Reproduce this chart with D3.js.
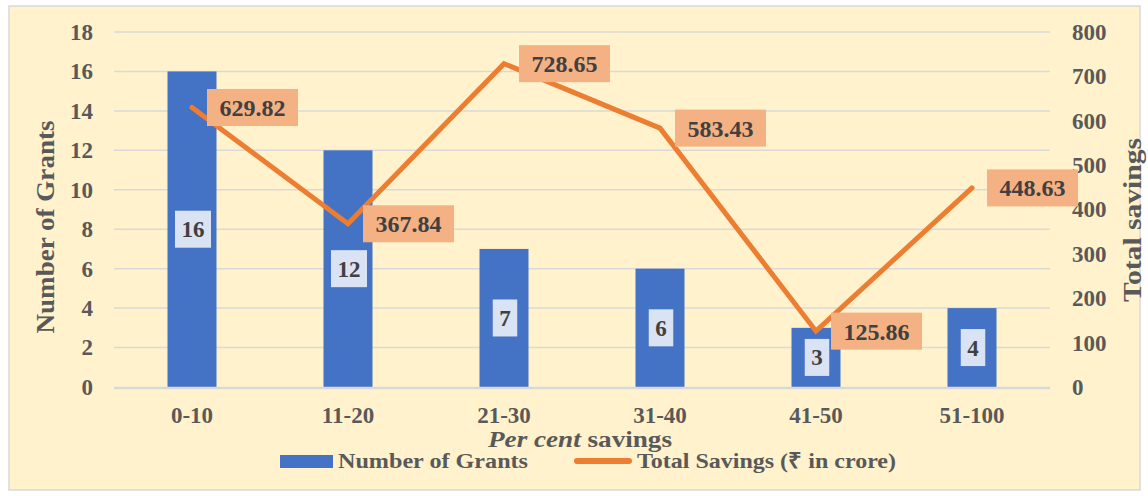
<!DOCTYPE html>
<html><head><meta charset="utf-8">
<script src="https://cdn.jsdelivr.net/npm/d3@7"></script>
<style>
html,body{margin:0;padding:0;background:#fff;}
svg text{font-family:"Liberation Serif","Times New Roman",serif;font-weight:bold;}
</style></head>
<body><svg id="c" width="1148" height="496"></svg>
<script>
const categories = ["0-10","11-20","21-30","31-40","41-50","51-100"];
const grants = [16,12,7,6,3,4];
const savings = [629.82,367.84,728.65,583.43,125.86,448.63];
const leftTicks = [0,2,4,6,8,10,12,14,16,18];
const rightTicks = [0,100,200,300,400,500,600,700,800];

const svg = d3.select("#c");
svg.append("rect").attr("x",9).attr("y",6).attr("width",1131).attr("height",484)
  .attr("fill","#FFF2CC").attr("stroke","#D9D9D9").attr("stroke-width",1.5);

const L=114,R=1050,T=32,B=387;
const x = d3.scaleBand().domain(categories).range([L,R]).padding(0);
const yL = d3.scaleLinear().domain([0,18]).range([B,T]);
const yR = d3.scaleLinear().domain([0,800]).range([B,T]);
const barW = x.bandwidth()*0.314;
const cx = c => x(c)+x.bandwidth()/2;
const axisCol="#595959", lblCol="#404040";

// gridlines
svg.append("g").selectAll("line").data(leftTicks.filter(d=>d>0)).join("line")
  .attr("x1",L).attr("x2",R).attr("y1",d=>yL(d)).attr("y2",d=>yL(d))
  .attr("stroke","#D9D9D9").attr("stroke-width",1.5);

// left axis
const gl = svg.append("g").attr("transform",`translate(${L},0)`)
  .call(d3.axisLeft(yL).tickValues(leftTicks).tickSize(0).tickPadding(21));
gl.select(".domain").remove();
gl.selectAll("text").attr("fill",axisCol).style("font-size","23px").style("font-family","Liberation Serif").style("font-weight","bold");

// right axis
const gr = svg.append("g").attr("transform",`translate(${R},0)`)
  .call(d3.axisRight(yR).tickValues(rightTicks).tickSize(0).tickPadding(22));
gr.select(".domain").remove();
gr.selectAll("text").attr("fill",axisCol).style("font-size","23px").style("font-family","Liberation Serif").style("font-weight","bold");

// bars
svg.append("g").selectAll("rect").data(categories).join("rect")
  .attr("x",(c)=>cx(c)-barW/2).attr("width",barW)
  .attr("y",(c,i)=>yL(grants[i])).attr("height",(c,i)=>B-yL(grants[i]))
  .attr("fill","#4472C4");

// baseline
svg.append("line").attr("x1",L).attr("x2",R).attr("y1",B+1).attr("y2",B+1)
  .attr("stroke","#D9D9D9").attr("stroke-width",2.5);

// x axis labels
const gx = svg.append("g").attr("transform",`translate(0,${B})`)
  .call(d3.axisBottom(x).tickSize(0).tickPadding(20));
gx.select(".domain").remove();
gx.selectAll("text").attr("fill",axisCol).style("font-size","23px").style("font-family","Liberation Serif").style("font-weight","bold");

// count labels
const cl = svg.append("g");
categories.forEach((c,i)=>{
  const ymid = (yL(grants[i])+B)/2;
  const t = cl.append("text").attr("x",cx(c)+1).attr("y",ymid).attr("dy","0.35em")
    .attr("text-anchor","middle").attr("fill",lblCol).style("font-size","23px").text(grants[i]);
  const w = t.node().getComputedTextLength()+13;
  cl.insert("rect","text").attr("x",cx(c)+1-w/2).attr("y",ymid-18.5).attr("width",w).attr("height",37).attr("fill","#DAE3F3");
});

// line
const line = d3.line().x((d,i)=>cx(categories[i])).y(d=>yR(d));
svg.append("path").datum(savings).attr("d",line).attr("fill","none")
  .attr("stroke","#ED7D31").attr("stroke-width",5).attr("stroke-linecap","round").attr("stroke-linejoin","miter");

// savings labels
const sl = svg.append("g");
categories.forEach((c,i)=>{
  const px = cx(c), py = yR(savings[i]);
  const g = sl.append("g");
  const t = g.append("text").attr("y",py).attr("dy","0.35em").attr("text-anchor","middle")
    .attr("fill",lblCol).style("font-size","24px").text(savings[i].toFixed(2));
  const w = t.node().getComputedTextLength()+25;
  t.attr("x",px+15+w/2);
  g.insert("rect","text").attr("x",px+15).attr("y",py-18.5).attr("width",w).attr("height",37).attr("fill","#F4B183");
});

// axis titles
svg.append("text").attr("transform","translate(54,227) rotate(-90)").attr("text-anchor","middle")
  .attr("fill",axisCol).style("font-size","26px").attr("textLength",213).attr("lengthAdjust","spacingAndGlyphs").text("Number of Grants");
svg.append("text").attr("transform","translate(1141,220) rotate(-90)").attr("text-anchor","middle")
  .attr("fill",axisCol).style("font-size","26px").attr("textLength",164).attr("lengthAdjust","spacingAndGlyphs").text("Total savings");

const xt = svg.append("text").attr("x",580).attr("y",447).attr("text-anchor","middle").attr("fill",axisCol).style("font-size","23px")
  .attr("textLength",184).attr("lengthAdjust","spacingAndGlyphs");
xt.append("tspan").style("font-style","italic").text("Per cent");
xt.append("tspan").text(" savings");

// legend
const lg = svg.append("g");
lg.append("rect").attr("x",280).attr("y",455).attr("width",53).attr("height",13).attr("fill","#4472C4");
lg.append("text").attr("x",338).attr("y",468).attr("fill",axisCol).style("font-size","22px").attr("textLength",190).attr("lengthAdjust","spacingAndGlyphs").text("Number of Grants");
lg.append("line").attr("x1",577).attr("x2",629).attr("y1",461).attr("y2",461).attr("stroke","#ED7D31").attr("stroke-width",6).attr("stroke-linecap","round");
lg.append("text").attr("x",637).attr("y",468).attr("fill",axisCol).style("font-size","22px").attr("textLength",259).attr("lengthAdjust","spacingAndGlyphs").text("Total Savings (₹ in crore)");
</script></body></html>
